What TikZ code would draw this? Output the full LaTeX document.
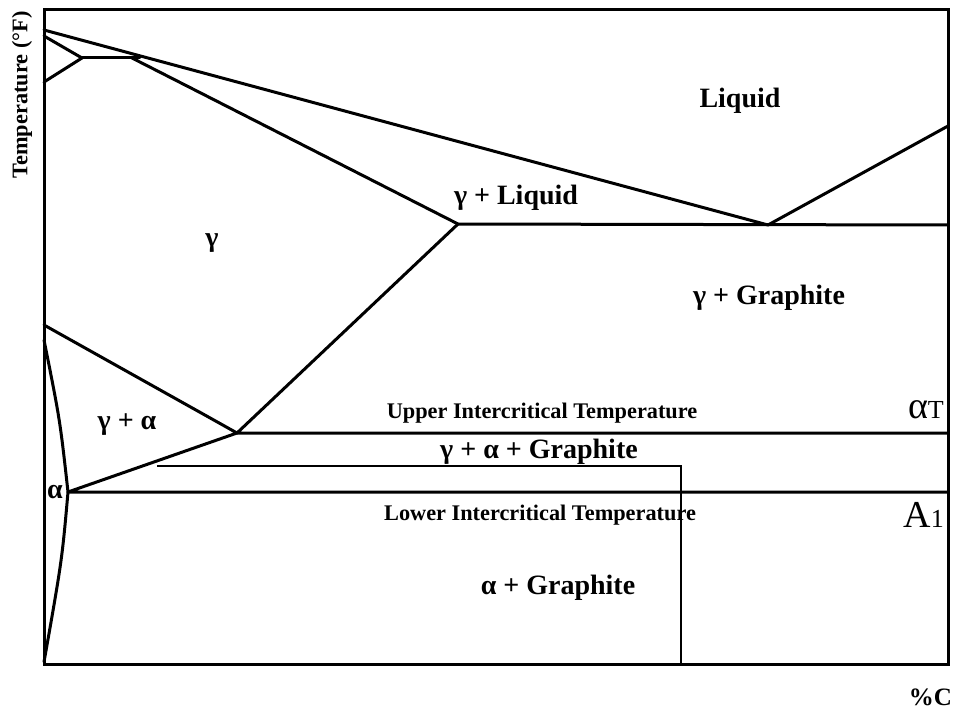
\documentclass[tikz,border=0pt]{standalone}
\usepackage{fontspec}
\setmainfont{Liberation Serif}
\begin{document}
\begin{tikzpicture}[x=1pt,y=-1pt,
  phase/.style={line width=3pt,line join=round,line cap=round},
  frame/.style={line width=3pt},
  thin/.style={line width=1.4pt},
  lab/.style={font=\fontsize{28}{32}\selectfont\bfseries,inner sep=0pt},
  smalllab/.style={font=\fontsize{22.3}{26}\selectfont\bfseries,inner sep=0pt},
  crit/.style={font=\fontsize{38}{42}\selectfont,inner sep=0pt}]
\useasboundingbox (0,0) rectangle (958,711);
% frame
\draw[frame] (44,10) rectangle (948,664);
% key points
\coordinate (Lt) at (44,30);
\coordinate (Dt) at (44,36);
\coordinate (Db) at (44,82);
\coordinate (P1) at (82,58);
\coordinate (P2) at (132,58);
\coordinate (P3) at (140,58);
\coordinate (G) at (458,224);
\coordinate (E) at (768,225);
\coordinate (ER) at (948,225);
\coordinate (LR) at (948,126);
\coordinate (S) at (237,433);
\coordinate (SR) at (948,433);
\coordinate (A3) at (44,325);
\coordinate (Al) at (44,340);
\coordinate (Ap) at (68,492);
\coordinate (ApR) at (948,492);
\coordinate (Ab) at (44,662);
\coordinate (T1) at (157,466);
\coordinate (T2) at (681,466);
\coordinate (T3) at (681,664);
% phase boundaries
\draw[phase] (Lt) -- (E) -- (LR);
\draw[phase] (Dt) -- (P1) -- (Db);
\draw[phase] (P1) -- (P3);
\draw[phase] (P2) -- (G) -- (ER);
\draw[phase] (G) -- (S) -- (SR);
\draw[phase] (A3) -- (S) -- (Ap) -- (ApR);
\draw[phase] (Al) .. controls (60,420) .. (Ap) .. controls (62,560) .. (Ab);
\draw[thin] (T1) -- (T2) -- (T3);
% labels
\node[lab] (liq) at (740,101) {Liquid};
\node[lab] (gliq) at (516,198) {γ + Liquid};
\node[lab] (g) at (212,243) {γ};
\node[lab] (ggr) at (769,298) {γ + Graphite};
\node[smalllab] (uit) at (542,413) {Upper Intercritical Temperature};
\node[lab] (ga) at (127,425) {γ + α};
\node[lab] (gagr) at (539,452) {γ + α + Graphite};
\node[lab] (a) at (55,492) {α};
\node[smalllab] (lit) at (540,515) {Lower Intercritical Temperature};
\node[lab] (agr) at (558,588) {α + Graphite};
\node[lab,font=\fontsize{25}{28}\selectfont\bfseries,anchor=east] (pc) at (952,697) {\%C};
\node[smalllab,rotate=90] (temp) at (22,95) {Temperature (°F)};
\node[crit,anchor=base east] (aT) at (944,418) {α{\fontsize{26}{30}\selectfont T}};
\node[crit,anchor=base east] (A1) at (944,527) {A{\fontsize{26}{30}\selectfont 1}};
\end{tikzpicture}
\end{document}
